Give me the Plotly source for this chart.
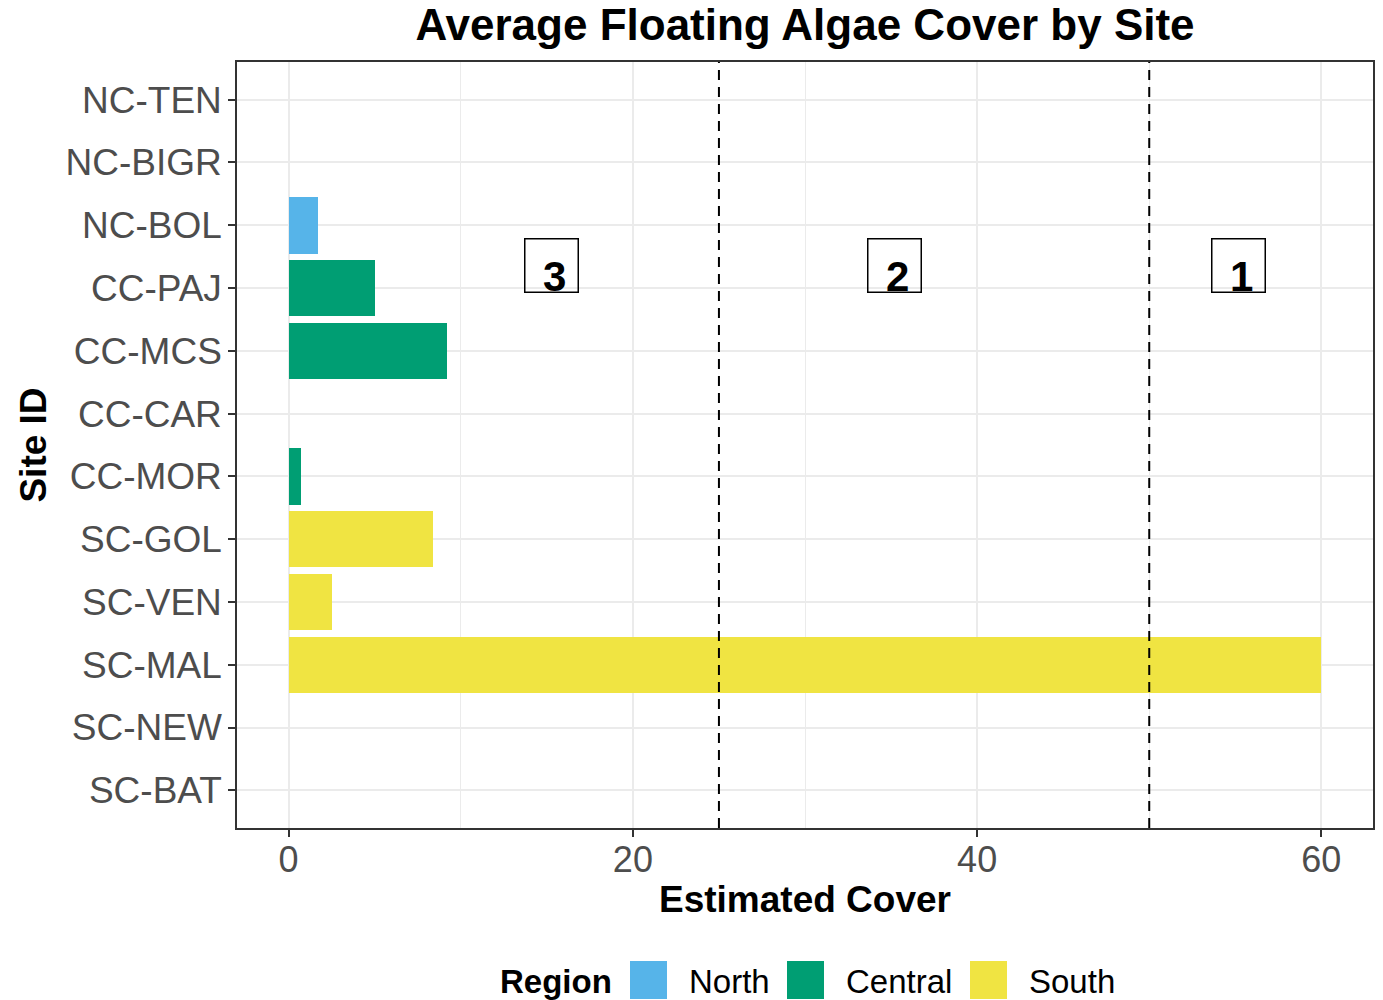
import plotly.graph_objects as go

# ---- data ----
sites = ["NC-TEN", "NC-BIGR", "NC-BOL", "CC-PAJ", "CC-MCS", "CC-CAR",
         "CC-MOR", "SC-GOL", "SC-VEN", "SC-MAL", "SC-NEW", "SC-BAT"]
site_region = ["North", "North", "North", "Central", "Central", "Central",
               "Central", "South", "South", "South", "South", "South"]
cover = [0, 0, 1.7, 5.0, 9.2, 0, 0.7, 8.4, 2.5, 60.0, 0, 0]
regions = ["North", "Central", "South"]
thresholds = [25, 50]
zone_labels = ["3", "2", "1"]
zone_label_x = [15.3, 35.2, 55.2]
zone_label_y = 8.36
x_ticks = [0, 20, 40, 60]

colors = {"North": "#56B4E9", "Central": "#009E73", "South": "#F0E442"}

n = len(sites)
ypos = [n - 1 - i for i in range(n)]

fig = go.Figure()
for reg in regions:
    xs = [c for c, r in zip(cover, site_region) if r == reg]
    ys = [y for y, r in zip(ypos, site_region) if r == reg]
    fig.add_trace(go.Bar(x=xs, y=ys, orientation="h", width=0.9,
                         marker=dict(color=colors[reg], line=dict(width=0)),
                         name=reg, showlegend=False))

for t in thresholds:
    fig.add_vline(x=t, line=dict(color="black", width=2, dash="10px,7px"))

L, R, T, B = 237, 1373, 62, 828
W, H = R - L, B - T
def px(x):
    return (x - L) / W
def py(y):
    return (B - y) / H

FONT = "Liberation Sans"

for lab, lx in zip(zone_labels, zone_label_x):
    # box
    fig.add_annotation(x=lx, y=zone_label_y, xref="x", yref="y",
                       text=" ", showarrow=False,
                       font=dict(family=FONT, size=20, color="black"),
                       width=52, height=52, bordercolor="black",
                       borderwidth=1.5, borderpad=0,
                       xanchor="center", yanchor="middle")
    # number, sitting low in the box
    fig.add_annotation(x=lx, y=zone_label_y, xref="x", yref="y",
                       text="<b>%s</b>" % lab, showarrow=False,
                       font=dict(family=FONT, size=42, color="black"),
                       xanchor="center", yanchor="middle", yshift=-11, xshift=3)

# manual legend
fig.add_annotation(x=px(498), y=py(981), xref="paper", yref="paper",
                   text="<b>Region</b>", showarrow=False, xanchor="left",
                   yanchor="middle",
                   font=dict(family=FONT, size=33, color="black"))
sq_x = [630, 787, 970]
lab_x = [687, 844, 1027]
for reg, sx, lx in zip(regions, sq_x, lab_x):
    fig.add_shape(type="rect", xref="paper", yref="paper",
                  x0=px(sx), x1=px(sx + 37), y0=py(999), y1=py(961),
                  fillcolor=colors[reg], line=dict(width=0))
    fig.add_annotation(x=px(lx), y=py(981), xref="paper", yref="paper",
                       text=reg, showarrow=False, xanchor="left",
                       yanchor="middle",
                       font=dict(family=FONT, size=33, color="black"))

fig.update_layout(
    width=1383, height=1000,
    margin=dict(l=L, r=1383 - R, t=T, b=1000 - B, pad=0, autoexpand=False),
    paper_bgcolor="white", plot_bgcolor="white",
    font=dict(family=FONT, color="#4D4D4D"),
    title=dict(text="<b>Average Floating Algae Cover by Site</b>",
               x=(L + R) / 2 / 1383, xanchor="center", y=1 - 25 / 1000,
               yanchor="middle",
               font=dict(family=FONT, size=44, color="black")),
    bargap=0,
    showlegend=False,
)

fig.update_xaxes(range=[-3, 63], tickvals=x_ticks, ticktext=[str(v) for v in x_ticks],
                 showgrid=True, gridcolor="#EBEBEB", gridwidth=2,
                 minor=dict(dtick=10, tick0=0, showgrid=True, gridcolor="#EBEBEB",
                            gridwidth=1),
                 ticks="outside", ticklen=7, tickwidth=1.5, tickcolor="#333333",
                 tickfont=dict(size=36, color="#4D4D4D"), ticklabelstandoff=-8,
                 showline=True, linecolor="#333333", linewidth=1.5, mirror=True,
                 zeroline=False,
                 title=dict(text="<b>Estimated Cover</b>", standoff=7,
                            font=dict(size=37, color="black")))
fig.update_yaxes(range=[-0.6, n - 0.4], tickvals=ypos, ticktext=sites,
                 showgrid=True, gridcolor="#EBEBEB", gridwidth=2,
                 ticks="outside", ticklen=7, tickwidth=1.5, tickcolor="#333333",
                 tickfont=dict(size=37, color="#4D4D4D"), ticklabelstandoff=-1,
                 showline=True, linecolor="#333333", linewidth=1.5, mirror=True,
                 zeroline=False,
                 title=dict(text="<b>Site ID</b>", standoff=8,
                            font=dict(size=37, color="black")))

fig.write_html("out.html", config={"displayModeBar": False},
               post_script="document.body.style.margin='0';document.body.style.padding='0';")
